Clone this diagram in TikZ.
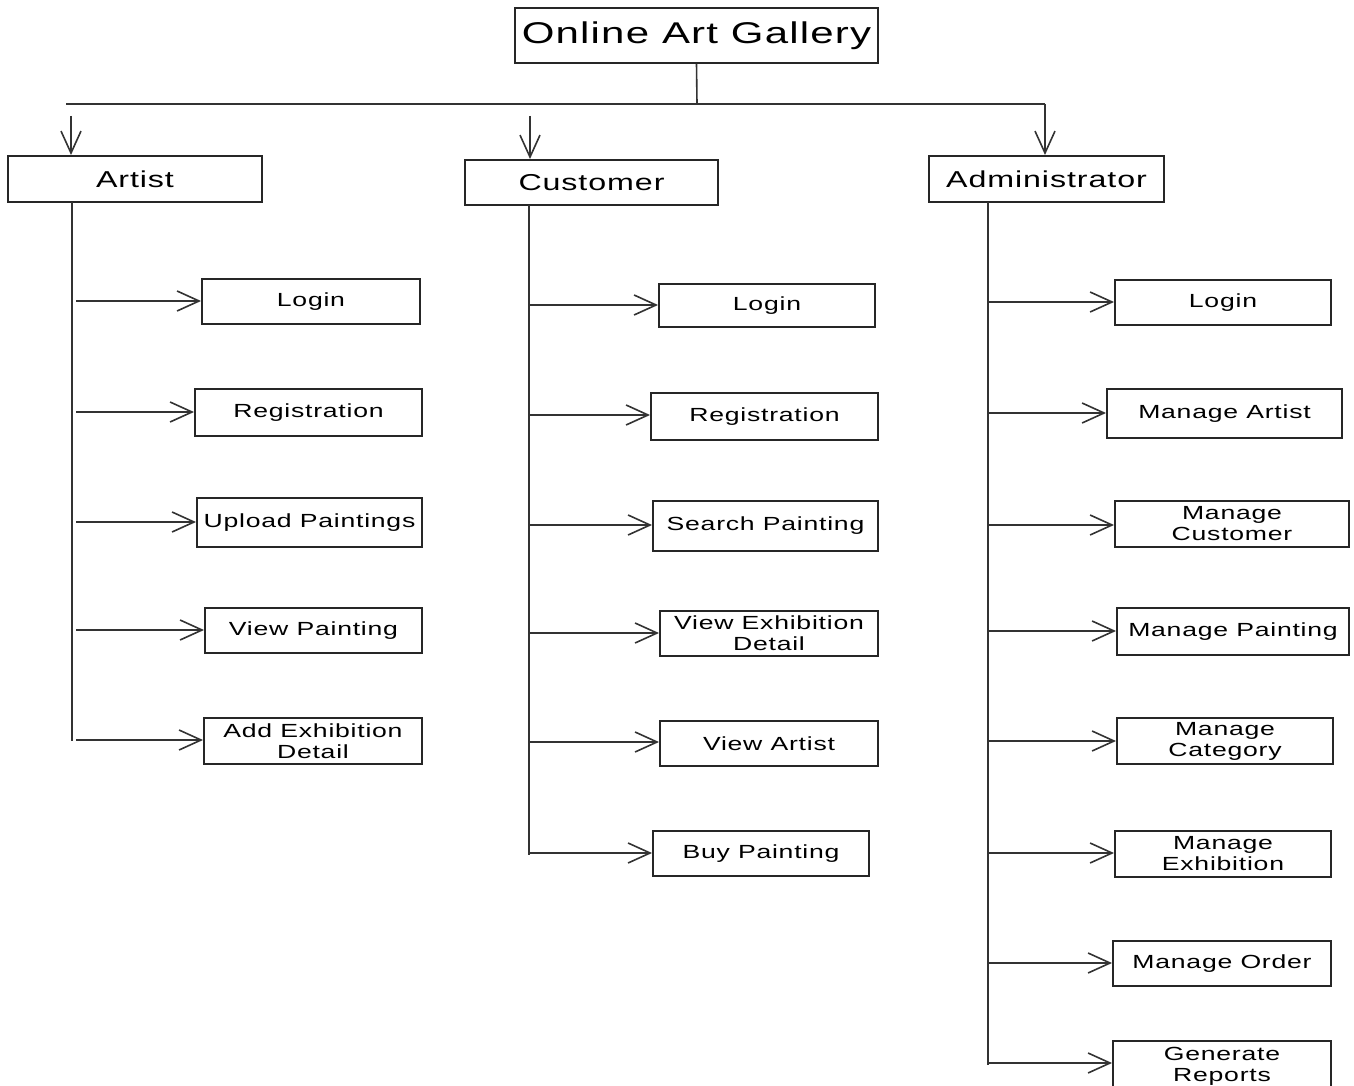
\documentclass[tikz,border=0pt]{standalone}
\usepackage{fontspec}
\setmainfont{Liberation Sans}[FakeStretch=1.4,LetterSpace=4]
\usetikzlibrary{arrows.meta}
\begin{document}
\begin{tikzpicture}[x=1pt,y=-1pt,
  box/.style={draw=black!85,line width=2pt,rectangle,inner sep=0pt,align=center,
    font=\fontsize{19}{21}\selectfont},
  cat/.style={draw=black!85,line width=2pt,rectangle,inner sep=0pt,
    font=\fontsize{23}{26}\selectfont},
  ln/.style={line width=1.6pt,draw=black!80},
  arr/.style={ln,-{Straight Barb[length=22pt,width=20pt,line width=1.6pt]}}]
\useasboundingbox (0,0) rectangle (1354,1086);
\fill[white] (0,0) rectangle (1354,1086);
% title
\node[cat,minimum width=363pt,minimum height=55pt,font=\fontsize{30}{32}\selectfont] (oag) at (696.5,35.5) {Online Art Gallery};
\coordinate (hl) at (66,104);
\coordinate (hm) at (697,104);
\coordinate (hr) at (1045,104);
\draw[ln] (oag.south) -- (hm);
\draw[ln] (hl) -- (hr);
% categories
\node[cat,minimum width=254pt,minimum height=46pt] (artist) at (135,179) {Artist};
\node[cat,minimum width=253pt,minimum height=45pt] (cust) at (591.5,182.5) {Customer};
\node[cat,minimum width=235pt,minimum height=46pt] (admin) at (1046.5,179) {Administrator};
\coordinate (a0) at (71,116);
\coordinate (c0) at (530,116);
\draw[arr] (a0) -- (a0 |- artist.north);
\draw[arr] (c0) -- (c0 |- cust.north);
\draw[arr] (hr) -- (hr |- admin.north);
% artist
\node[box,minimum width=218pt,minimum height=45pt] (al) at (311,301.5) {Login};
\node[box,minimum width=227pt,minimum height=47pt] (ar) at (308.5,412.5) {Registration};
\node[box,minimum width=225pt,minimum height=49pt] (au) at (309.5,522.5) {Upload Paintings};
\node[box,minimum width=217pt,minimum height=45pt] (av) at (313.5,630.5) {View Painting};
\node[box,minimum width=218pt,minimum height=46pt] (ad) at (313,741) {Add Exhibition\\Detail};
\coordinate (at) at (72,202);
\coordinate (ab) at (72,741);
\draw[ln] (at) -- (ab);
\foreach \n/\y in {al/301,ar/412,au/522,av/630,ad/740}{
  \draw[arr] (76,\y) -- (\n.west |- 0,\y);
}
% customer
\node[box,minimum width=216pt,minimum height=43pt] (cl) at (767,305.5) {Login};
\node[box,minimum width=227pt,minimum height=47pt] (cr) at (764.5,416.5) {Registration};
\node[box,minimum width=225pt,minimum height=50pt] (cs) at (765.5,526) {Search Painting};
\node[box,minimum width=218pt,minimum height=45pt] (ce) at (769,633.5) {View Exhibition\\Detail};
\node[box,minimum width=218pt,minimum height=45pt] (cv) at (769,743.5) {View Artist};
\node[box,minimum width=216pt,minimum height=45pt] (cb) at (761,853.5) {Buy Painting};
\coordinate (ct) at (529,205);
\coordinate (cbt) at (529,855);
\draw[ln] (ct) -- (cbt);
\foreach \n/\y in {cl/305,cr/415,cs/525,ce/633,cv/742,cb/853}{
  \draw[arr] (529,\y) -- (\n.west |- 0,\y);
}
% admin
\node[box,minimum width=216pt,minimum height=45pt] (ml) at (1223,302.5) {Login};
\node[box,minimum width=235pt,minimum height=49pt] (ma) at (1224.5,413.5) {Manage Artist};
\node[box,minimum width=234pt,minimum height=46pt] (mc) at (1232,524) {Manage\\Customer};
\node[box,minimum width=232pt,minimum height=47pt] (mp) at (1233,631.5) {Manage Painting};
\node[box,minimum width=216pt,minimum height=46pt] (mg) at (1225,741) {Manage\\Category};
\node[box,minimum width=216pt,minimum height=46pt] (me) at (1223,854) {Manage\\Exhibition};
\node[box,minimum width=218pt,minimum height=45pt] (mo) at (1222,963.5) {Manage Order};
\node[box,minimum width=218pt,minimum height=50pt] (mr) at (1222,1066) {Generate\\Reports};
\coordinate (mt) at (988,202);
\coordinate (mb) at (988,1065);
\draw[ln] (mt) -- (mb);
\foreach \n/\y in {ml/302,ma/413,mc/525,mp/631,mg/741,me/853,mo/963,mr/1063}{
  \draw[arr] (988,\y) -- (\n.west |- 0,\y);
}
\end{tikzpicture}
\end{document}
